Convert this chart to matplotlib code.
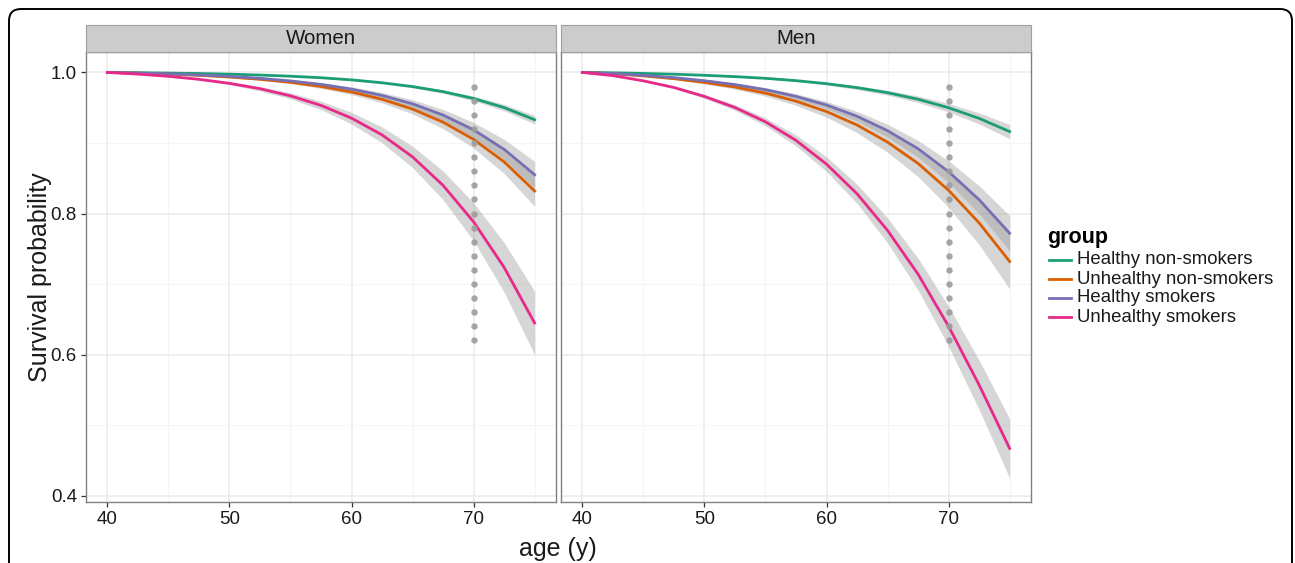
import matplotlib
matplotlib.use('Agg')
import matplotlib.pyplot as plt
import numpy as np
from matplotlib.patches import Rectangle, FancyBboxPatch
from matplotlib.lines import Line2D
from matplotlib.ticker import MultipleLocator

plt.rcParams['font.family'] = ['Liberation Sans', 'DejaVu Sans']

# ---------------- data ----------------
ages = [40, 42.5, 45, 47.5, 50, 52.5, 55, 57.5, 60, 62.5, 65, 67.5, 70, 72.5, 75]
groups = ['Healthy non-smokers', 'Unhealthy non-smokers', 'Healthy smokers', 'Unhealthy smokers']
colors = ['#1B9E77', '#D95F02', '#7570B3', '#E7298A']
panels = ['Women', 'Men']
x_ticks = [40, 50, 60, 70]
y_ticks = [0.4, 0.6, 0.8, 1.0]
ref_age = 70
ref_range = (0.62, 0.98)

women_healthy_nonsmokers = [1.0, .9996, .9991, .9985, .9976, .9963, .9947, .9925, .9895, .9854, .9800, .9728, .9631, .9502, .9330]
women_unhealthy_nonsmokers = [1.0, .9990, .9977, .9959, .9935, .9903, .9860, .9801, .9723, .9619, .9480, .9295, .9051, .8733, .8320]
women_healthy_smokers = [1.0, .9992, .9980, .9965, .9945, .9917, .9880, .9831, .9764, .9674, .9555, .9396, .9186, .8910, .8550]
women_unhealthy_smokers = [1.0, .9977, .9945, .9903, .9846, .9770, .9668, .9533, .9352, .9115, .8803, .8399, .7883, .7237, .6448]

men_healthy_nonsmokers = [1.0, .9995, .9986, .9975, .9960, .9941, .9917, .9884, .9841, .9785, .9713, .9620, .9500, .9349, .9162]
men_unhealthy_nonsmokers = [1.0, .9982, .9951, .9912, .9859, .9793, .9707, .9593, .9446, .9255, .9012, .8710, .8329, .7867, .7320]
men_healthy_smokers = [1.0, .9985, .9959, .9927, .9883, .9828, .9756, .9661, .9538, .9379, .9174, .8918, .8593, .8196, .7720]
men_unhealthy_smokers = [1.0, .9955, .9881, .9787, .9660, .9503, .9300, .9037, .8700, .8280, .7760, .7140, .6400, .5570, .4670]

# half-widths of the confidence bands
women_hw_healthy_nonsmokers = [0, .0001, .0001, .0002, .0002, .0003, .0005, .0007, .0010, .0013, .0018, .0024, .0033, .0045, .0060]
women_hw_unhealthy_nonsmokers = [0, .0002, .0004, .0006, .0009, .0013, .0018, .0026, .0036, .0050, .0068, .0092, .0123, .0165, .0218]
women_hw_healthy_smokers = [0, .0002, .0003, .0005, .0008, .0011, .0016, .0022, .0031, .0042, .0058, .0079, .0106, .0142, .0189]
women_hw_unhealthy_smokers = [0, .0005, .0009, .0013, .0020, .0030, .0043, .0060, .0082, .0112, .0152, .0203, .0269, .0351, .0451]

men_hw_healthy_nonsmokers = [0, .0001, .0002, .0003, .0005, .0007, .0010, .0014, .0019, .0026, .0034, .0046, .0060, .0078, .0101]
men_hw_unhealthy_nonsmokers = [0, .0003, .0007, .0013, .0020, .0030, .0042, .0059, .0080, .0108, .0143, .0187, .0242, .0309, .0389]
men_hw_healthy_smokers = [0, .0002, .0005, .0008, .0013, .0019, .0027, .0037, .0051, .0068, .0091, .0119, .0155, .0198, .0251]
men_hw_unhealthy_smokers = [0, .0005, .0010, .0017, .0027, .0040, .0056, .0077, .0103, .0136, .0177, .0226, .0284, .0350, .0421]

series = {
    'Women': [women_healthy_nonsmokers, women_unhealthy_nonsmokers, women_healthy_smokers, women_unhealthy_smokers],
    'Men': [men_healthy_nonsmokers, men_unhealthy_nonsmokers, men_healthy_smokers, men_unhealthy_smokers],
}
halfwidths = {
    'Women': [women_hw_healthy_nonsmokers, women_hw_unhealthy_nonsmokers, women_hw_healthy_smokers, women_hw_unhealthy_smokers],
    'Men': [men_hw_healthy_nonsmokers, men_hw_unhealthy_nonsmokers, men_hw_healthy_smokers, men_hw_unhealthy_smokers],
}

# ---------------- layout ----------------
W, H = 1295, 563
fig = plt.figure(figsize=(W / 100, H / 100), dpi=100)


def fx(px):
    return px / W


def fy(py):
    return 1 - py / H


# outer rounded frame
frame = FancyBboxPatch((0.09, -0.4), 12.83, 5.94,
                       boxstyle="round,pad=0,rounding_size=0.12",
                       transform=fig.dpi_scale_trans, fill=False,
                       edgecolor='black', linewidth=1.4, zorder=0)
fig.patches.append(frame)

panel_left = [86, 561]
panel_w = 470
panel_top, panel_bot = 52, 502
strip_top = 25

for i, name in enumerate(panels):
    l = panel_left[i]
    ax = fig.add_axes([fx(l), fy(panel_bot), fx(panel_w), (panel_bot - panel_top) / H])
    ax.set_xlim(38.25, 76.75)
    ax.set_ylim(0.391, 1.029)
    ax.set_xticks(x_ticks)
    ax.set_yticks(y_ticks)
    ax.xaxis.set_minor_locator(MultipleLocator(5))
    ax.yaxis.set_minor_locator(MultipleLocator(0.1))
    ax.grid(True, which='major', color='#EBEBEB', linewidth=1.1, zorder=0)
    ax.grid(True, which='minor', color='#F5F5F5', linewidth=0.8, zorder=0)
    ax.set_axisbelow(True)
    for sp in ax.spines.values():
        sp.set_color('#808080')
        sp.set_linewidth(1.0)
    ax.tick_params(which='minor', length=0)
    ax.tick_params(which='major', length=3.5, width=0.9, color='#333333',
                   labelsize=13.5, labelcolor='#1a1a1a', pad=3)
    ax.set_xticklabels([str(t) for t in x_ticks])
    if i == 0:
        ax.set_yticklabels(['%.1f' % t for t in y_ticks])
    else:
        ax.tick_params(axis='y', which='both', left=False, labelleft=False)

    # confidence ribbons
    for s, hw in zip(series[name], halfwidths[name]):
        lo = [v - h for v, h in zip(s, hw)]
        hi = [v + h for v, h in zip(s, hw)]
        ax.fill_between(ages, lo, hi, color='#999999', alpha=0.4, linewidth=0, zorder=2)
    # survival lines
    for s, c in zip(series[name], colors):
        ax.plot(ages, s, color=c, linewidth=2.0, zorder=3)
    # dotted reference line at age 70
    dots = np.linspace(ref_range[0], ref_range[1], 19)
    ax.plot([ref_age] * len(dots), dots, linestyle='none', marker='o',
            markersize=4.6, markerfacecolor='#9c9c9c', markeredgewidth=0,
            alpha=0.9, zorder=4)

    # facet strip
    strip = Rectangle((fx(l), fy(panel_top)), fx(panel_w), (panel_top - strip_top) / H,
                      transform=fig.transFigure, facecolor='#CCCCCC',
                      edgecolor='#a0a0a0', linewidth=0.8)
    fig.patches.append(strip)
    fig.text(fx(l + panel_w / 2), fy((panel_top + strip_top) / 2), name,
             ha='center', va='center', fontsize=14.8, color='#1a1a1a')

# axis titles
fig.text(fx(558), fy(549), 'age (y)', ha='center', va='center', fontsize=18, color='#1a1a1a')
fig.text(fx(40), fy(277), 'Survival probability', ha='center', va='center',
         rotation=90, fontsize=18, color='#1a1a1a')

# legend
fig.text(fx(1047), fy(238), 'group', ha='left', va='center', fontsize=15.5,
         fontweight='bold', color='black')
row_y = [260, 279, 298, 317]
for g, c, yy in zip(groups, colors, row_y):
    fig.add_artist(Line2D([fx(1049), fx(1071)], [fy(yy), fy(yy)], color=c,
                          linewidth=2.0, transform=fig.transFigure))
    fig.text(fx(1077), fy(yy), g, ha='left', va='center', fontsize=13.4, color='#1a1a1a')

fig.savefig('out.png', dpi=100, facecolor='white')
